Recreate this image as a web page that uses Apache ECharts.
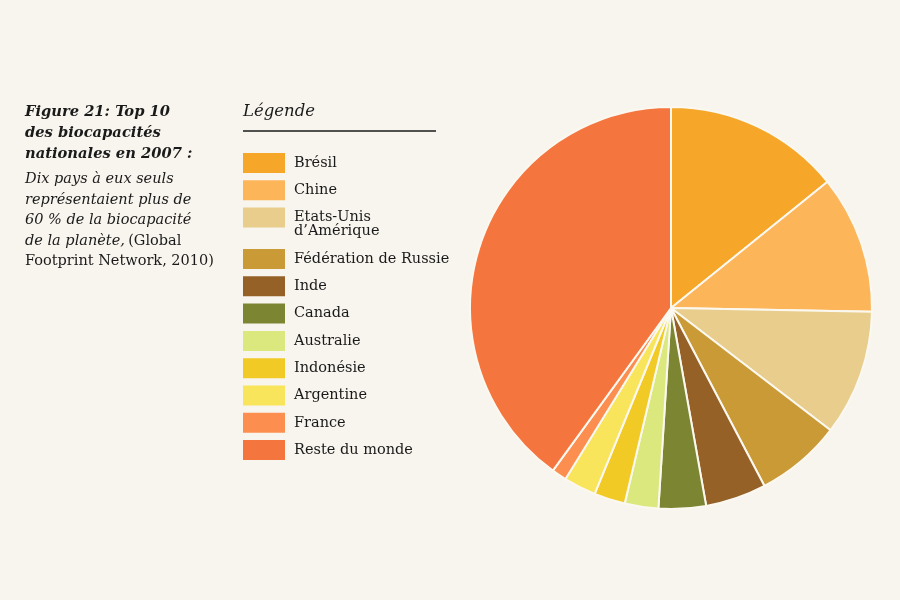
<!DOCTYPE html>
<html>
<head>
    <meta charset="utf-8">
    <script src="https://cdn.jsdelivr.net/npm/echarts@6/dist/echarts.min.js"></script>
    <style>
        body { margin: 0; background: #f8f5ee; }
    </style>
</head>
<body>
    <div id="main" style="width: 900px;height:600px;"></div>
    <script type="text/javascript">
        var myChart = echarts.init(document.getElementById('main'));

        // parts de la biocapacite mondiale (%)
        var pays = ['Brésil', 'Chine', 'Etats-Unis\nd\u2019Amérique', 'Fédération de Russie', 'Inde',
                    'Canada', 'Australie', 'Indonésie', 'Argentine', 'France', 'Reste du monde'];
        var parts = [14.2, 11.1, 10.1, 6.9, 4.9, 3.8, 2.7, 2.5, 2.6, 1.2, 40.0];
        var couleurs = ['#f6a628', '#fdb55a', '#e8cd8c', '#ca9a36', '#956127',
                        '#7c8531', '#dae87d', '#f1ca25', '#f9e55b', '#fc8f50', '#f5753f'];

        var police = 'DejaVu Serif';
        var data = [];
        for (var i = 0; i < pays.length; i++) {
            data.push({ name: pays[i], value: parts[i], itemStyle: { color: couleurs[i] } });
        }

        function legende(top, noms, extra) {
            var l = {
                orient: 'vertical',
                left: 243,
                top: top,
                padding: 0,
                itemWidth: 42,
                itemHeight: 20,
                itemGap: 7.3,
                icon: 'rect',
                selectedMode: false,
                itemStyle: { borderWidth: 0 },
                textStyle: { fontFamily: police, fontSize: 14.5, color: '#1a1a1a', lineHeight: 14, padding: [0, 0, 0, 4] },
                data: noms
            };
            if (extra) { l.formatter = extra; }
            return l;
        }

        var option = {
            backgroundColor: '#f8f5ee',
            animation: false,
            title: {
                left: 25,
                top: 102,
                padding: 0,
                itemGap: 4,
                text: 'Figure 21: Top 10\ndes biocapacités\nnationales en 2007 :',
                textStyle: {
                    fontFamily: police, fontSize: 14.7, fontWeight: 'bold', fontStyle: 'italic',
                    color: '#1a1a1a', lineHeight: 21
                },
                subtext: '{i|Dix pays à eux seuls}\n{i|représentaient plus de}\n{i|60 % de la biocapacité}\n{i|de la planète,} {n|(Global}\n{n|Footprint Network, 2010)}',
                subtextStyle: {
                    rich: {
                        i: { fontFamily: police, fontSize: 14.5, fontStyle: 'italic', color: '#1a1a1a', lineHeight: 20.5 },
                        n: { fontFamily: police, fontSize: 14.5, color: '#1a1a1a', lineHeight: 20.5 }
                    }
                }
            },
            legend: [
                legende(153, pays.slice(0, 2)),
                legende(196, pays.slice(2, 3), function (n) { return '\n' + n; }),
                legende(249, pays.slice(3))
            ],
            graphic: [
                {
                    type: 'text', left: 243, top: 103,
                    style: { text: 'Légende', fontFamily: police, fontSize: 16.5, fontStyle: 'italic', fill: '#1a1a1a' }
                },
                {
                    type: 'line',
                    shape: { x1: 243, y1: 131, x2: 436, y2: 131 },
                    style: { stroke: '#1a1a1a', lineWidth: 1.5 }
                }
            ],
            series: [
                {
                    type: 'pie',
                    center: [671, 308],
                    radius: 201,
                    startAngle: 90,
                    clockwise: true,
                    label: { show: false },
                    labelLine: { show: false },
                    emphasis: { disabled: true },
                    itemStyle: { borderColor: '#fbf8f0', borderWidth: 2 },
                    data: data
                }
            ]
        };

        myChart.setOption(option);
    </script>
</body>
</html>
